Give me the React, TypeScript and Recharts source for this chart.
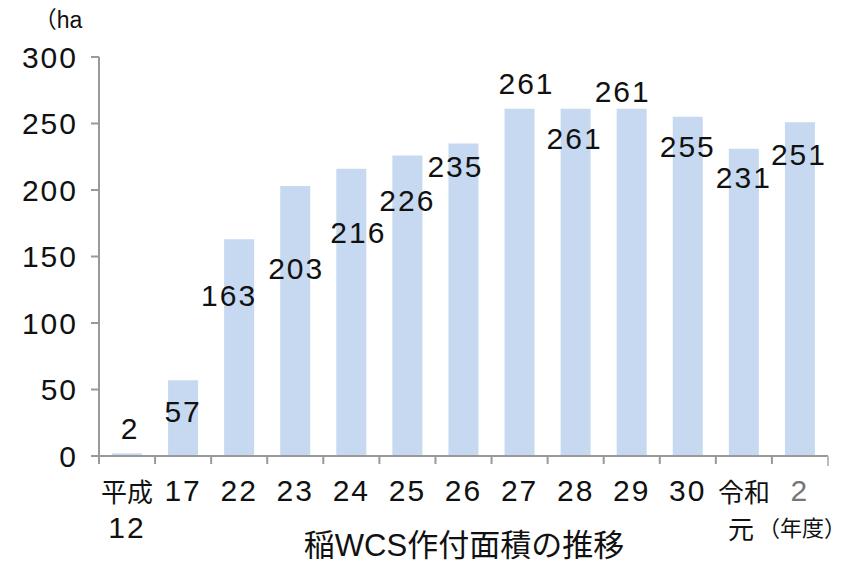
import React from 'react';
import { BarChart, Bar, XAxis, YAxis, LabelList } from 'recharts';

const tickTop = ['平成', '17', '22', '23', '24', '25', '26', '27', '28', '29', '30', '令和', '2'];
const tickBottom = ['12', '', '', '', '', '', '', '', '', '', '', '元', ''];
const area = [2, 57, 163, 203, 216, 226, 235, 261, 261, 261, 255, 231, 251];
const yTicks = [0, 50, 100, 150, 200, 250, 300];

// hand placed value labels in the original, offset from bar top centre
const labelShift: [number, number][] = [
  [3, -25], [0, 31], [-10, 56], [1, 82], [7, 64], [0, 45], [-8, 23],
  [7, -25], [-1, 30], [-9, -17], [0, 30], [0, 29], [-1, 32],
];

const W = 847;
const H = 562;
const LEFT = 99;
const RIGHT = 828;
const TOP = 57;
const BOTTOM = 456;
const BAND = (RIGHT - LEFT) / area.length;
const FONT = '"Liberation Sans", "Noto Sans CJK JP", sans-serif';
const JP = '"Noto Sans CJK JP", sans-serif';
const SP = 2;

const data = area.map((v, i) => ({ name: tickTop[i] + tickBottom[i], area: v }));

const isNum = (s: string) => /\d/.test(s);

const XTick = (props: any) => {
  const { x, index } = props;
  const i = index as number;
  const last = i === area.length - 1;
  const top = tickTop[i];
  const bottom = tickBottom[i];
  return (
    <g>
      <line x1={x - BAND / 2} x2={x - BAND / 2} y1={BOTTOM} y2={BOTTOM + 8} stroke="#999" strokeWidth={2} />
      {last && <line x1={x + BAND / 2} x2={x + BAND / 2} y1={BOTTOM} y2={BOTTOM + 10} stroke="#bbb" strokeWidth={2} />}
      <text x={x} y={490} textAnchor="middle" dominantBaseline="central"
        fontSize={isNum(top) ? 30 : 26} letterSpacing={isNum(top) ? SP : 0}
        fill={last ? '#777' : '#111'} fontFamily={isNum(top) ? FONT : JP}>
        {top}
      </text>
      {bottom && (
        <text x={i === 11 ? x - 3 : x} y={527} textAnchor="middle" dominantBaseline="central"
          fontSize={isNum(bottom) ? 30 : 26} letterSpacing={isNum(bottom) ? SP : 0}
          fill="#111" fontFamily={isNum(bottom) ? FONT : JP}>
          {bottom}
        </text>
      )}
    </g>
  );
};

const ValueLabel = (props: any) => {
  const vb = props.viewBox || props;
  const i = props.index as number;
  const [dx, dy] = labelShift[i];
  const cx = vb.x + vb.width / 2 + dx;
  const cy = vb.y + dy;
  return (
    <text x={cx} y={cy} textAnchor="middle" dominantBaseline="central" fontSize={30}
      letterSpacing={SP} fill="#111" fontFamily={FONT}>
      {props.value}
    </text>
  );
};

export default function App() {
  return (
    <div style={{ position: 'fixed', left: 0, top: 0, width: W, height: H, background: '#fff' }}>
      <BarChart width={W} height={H} data={data}
        margin={{ top: TOP, right: W - RIGHT, left: 0, bottom: 0 }} barSize={30}>
        <XAxis dataKey="name" height={H - BOTTOM} interval={0} tickLine={false}
          axisLine={{ stroke: '#999', strokeWidth: 2 }} tick={<XTick />} />
        <YAxis width={LEFT} domain={[0, 300]} ticks={yTicks} interval={0}
          tickSize={8} tickMargin={13}
          axisLine={{ stroke: '#999', strokeWidth: 2 }}
          tickLine={{ stroke: '#999', strokeWidth: 2 }}
          tick={{ fontSize: 30, fill: '#111', fontFamily: FONT, letterSpacing: SP }} />
        <Bar dataKey="area" fill="#c6d9f0" isAnimationActive={false}>
          <LabelList dataKey="area" content={<ValueLabel />} />
        </Bar>
        <text x={58} y={20} textAnchor="middle" dominantBaseline="central" fontSize={23}
          fill="#111" fontFamily={FONT}>（ha</text>
        <text x={802} y={526} textAnchor="middle" dominantBaseline="central" fontSize={22}
          fill="#111" fontFamily={JP}>（年度）</text>
        <text x={464} y={545} textAnchor="middle" dominantBaseline="central" fontSize={31}
          fill="#111" fontFamily={FONT}>稲WCS作付面積の推移</text>
      </BarChart>
    </div>
  );
}
